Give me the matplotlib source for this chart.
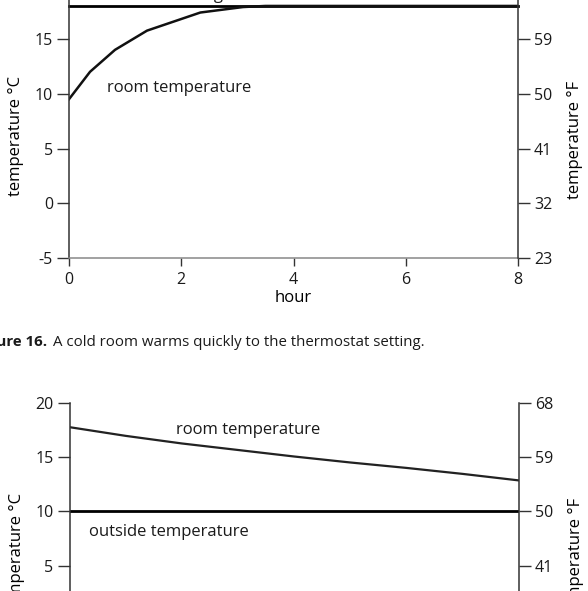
import matplotlib.pyplot as plt

# top chart: cold room warming up
hours_warm = [0, 0.375, 0.82, 1.39, 2.34, 3.1, 3.5, 8]
room_warm = [9.5, 12.0, 14.0, 15.75, 17.4, 17.9, 18.0, 18.0]
thermostat = 18

# bottom chart: warm room cooling down
hours_cool = [0, 1, 2, 3, 4, 5, 6, 7, 8]
room_cool = [17.75, 16.95, 16.25, 15.65, 15.05, 14.5, 14.0, 13.45, 12.85]
outside = 10

c_ticks = [-5, 0, 5, 10, 15, 20]
f_ticks = [23, 32, 41, 50, 59, 68]
x_ticks = [0, 2, 4, 6, 8]

plt.rcParams['font.family'] = ['Open Sans', 'DejaVu Sans']
plt.rcParams['font.size'] = 11
plt.rcParams['text.color'] = '#1a1a1a'
plt.rcParams['axes.unicode_minus'] = False

W, H = 588, 591
fig = plt.figure(figsize=(W / 100, H / 100), dpi=100)


def px_axes(left, right, top, bottom):
    # pixel box (from top-left) -> figure fraction rect
    return [left / W, 1 - bottom / H, (right - left) / W, (bottom - top) / H]


def style(ax):
    ax.set_xlim(0, 8)
    ax.set_ylim(-5, 20)
    ax.set_xticks(x_ticks)
    ax.set_yticks(c_ticks)
    ax.spines['top'].set_visible(False)
    ax.spines['left'].set_color('#333333')
    ax.spines['right'].set_visible(False)
    ax.spines['bottom'].set_color('#888888')
    for s in ax.spines.values():
        s.set_linewidth(1.1)
    ax.tick_params(axis='y', direction='out', length=8.5, width=1.0,
                   color='#333333', pad=3, labelsize=11.5, labelcolor='#1a1a1a')
    ax.tick_params(axis='x', direction='out', length=6, width=1.0,
                   color='#333333', pad=4, labelsize=11.5, labelcolor='#1a1a1a')
    ax.set_ylabel('temperature °C', fontsize=12)
    ax.yaxis.set_label_coords(-0.100, 0.446)

    axr = ax.twinx()
    axr.set_ylim(-5 * 9 / 5 + 32, 20 * 9 / 5 + 32)
    axr.set_yticks(f_ticks)
    for k in ['top', 'left', 'bottom']:
        axr.spines[k].set_visible(False)
    axr.spines['right'].set_color('#333333')
    axr.spines['right'].set_linewidth(1.1)
    axr.tick_params(axis='y', direction='out', length=8.5, width=1.0,
                    color='#333333', pad=3, labelsize=11.5, labelcolor='#1a1a1a')
    axr.set_ylabel('temperature °F', fontsize=12)
    axr.yaxis.set_label_coords(1.109, 0.431)
    return axr


# top chart
ax1 = fig.add_axes(px_axes(69, 518, -16, 258.3))
style(ax1)
ax1.plot([0, 8], [thermostat, thermostat], color='black', lw=2.0, clip_on=False)
ax1.plot(hours_warm, room_warm, color='#111111', lw=1.8)
ax1.text(0.68, 10.5, 'room temperature', ha='left', va='center', fontsize=12)
ax1.text(2.75, 18.6, 'thermostat setting', ha='right', va='baseline', fontsize=12)
ax1.set_xlabel('hour', fontsize=12, labelpad=1)

# caption
fig.text(47 / W, 1 - 346 / H, 'Figure 16.', fontsize=10.8, fontweight='bold',
         ha='right', va='baseline')
fig.text(53 / W, 1 - 346 / H, 'A cold room warms quickly to the thermostat setting.',
         fontsize=10.8, ha='left', va='baseline')

# bottom chart
ax2 = fig.add_axes(px_axes(69.5, 519, 402.7, 674.5))
style(ax2)
ax2.plot([0, 8], [outside, outside], color='black', lw=2.0)
ax2.plot(hours_cool, room_cool, color='#222222', lw=1.6)
ax2.text(1.9, 17.45, 'room temperature', ha='left', va='center', fontsize=12)
ax2.text(0.35, 8.1, 'outside temperature', ha='left', va='center', fontsize=12)
ax2.set_xlabel('hour', fontsize=12, labelpad=1)

fig.savefig('out.png', dpi=100)
